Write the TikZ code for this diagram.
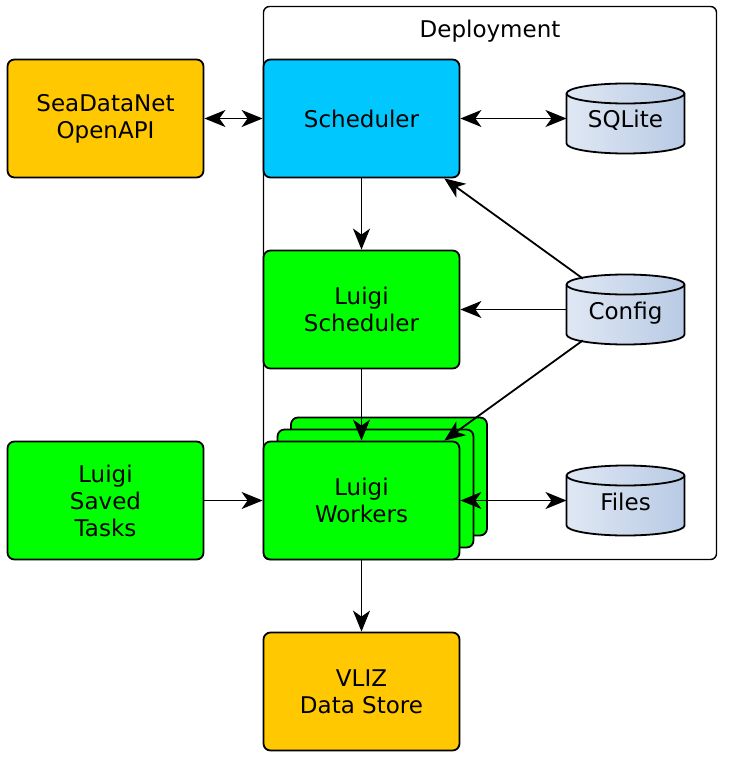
\documentclass[tikz,border=0pt]{standalone}
\usepackage{fontspec}
\setmainfont{DejaVu Sans}
\usetikzlibrary{arrows.meta}
\definecolor{skyblue}{HTML}{00C8FF}
\definecolor{golden}{HTML}{FFC800}
\definecolor{brightgreen}{HTML}{00FF00}
\definecolor{dblight}{HTML}{E0E8F4}
\definecolor{dbdark}{HTML}{B8CAE4}
\tikzset{
  box/.style = {draw, rounded corners=7pt, line width=1.8pt, minimum width=196pt, minimum height=118pt, align=center},
  db/.style = {minimum width=120pt, minimum height=72pt, inner sep=0pt, outer sep=-1pt, text height=20pt, text depth=1pt,
    path picture={
      \shadedraw[left color=dblight, right color=dbdark, line width=1.8pt, line join=round]
        ([shift={(-59,-25)}]path picture bounding box.center) -- ++(0,50)
        arc[start angle=180, end angle=360, x radius=59pt, y radius=10pt] -- ++(0,-50)
        arc[start angle=0, end angle=180, x radius=59pt, y radius=10pt] -- cycle;
      \draw[line width=1.8pt] ([shift={(-59,-25)}]path picture bounding box.center)
        arc[start angle=180, end angle=360, x radius=59pt, y radius=10pt];
    }},
  link/.style = {line width=1.8pt},
}
\begin{document}
\begin{tikzpicture}[x=1pt, y=-1pt, font=\fontsize{23}{27}\selectfont, >={Stealth[length=21pt,width=17pt,inset=6pt]}]
    \useasboundingbox (0,0) rectangle (729,759);
    % Draw the deployment frame
    \node (frame) [draw, rounded corners=6pt, line width=1.4pt, minimum width=453pt, minimum height=553pt] at (490,283) {};
    \node (deploy) at (490,31) {Deployment};
    % Draw the boxes
    \node (sdn) [box, fill=golden] at (105.5,118.5) {SeaDataNet\\OpenAPI};
    \node (sched) [box, fill=skyblue] at (361.5,118.5) {Scheduler};
    \node (lsched) [box, fill=brightgreen] at (361.5,309.5) {Luigi\\Scheduler};
    \node (saved) [box, fill=brightgreen] at (105.5,500.5) {Luigi\\Saved\\Tasks};
    \node (wrk3) [box, fill=brightgreen] at (389,476.5) {};
    \node (wrk2) [box, fill=brightgreen] at (375.5,488.5) {};
    \node (wrk) [box, fill=brightgreen] at (361.5,500.5) {Luigi\\Workers};
    \node (vliz) [box, fill=golden] at (361.5,691.5) {VLIZ\\Data Store};
    % Draw the databases
    \node (sqlite) [db] at (625.5,118.5) {SQLite};
    \node (config) [db] at (625.5,309.5) {Config};
    \node (files) [db] at (625.5,500.5) {Files};
    % Draw the arrows
    \draw[link, <->] (sdn) -- (sched);
    \draw[link, <->] (sched) -- (sqlite);
    \draw[link, ->] (sched) -- (lsched);
    \draw[link, ->, shorten <=-7pt] (config) -- (sched);
    \draw[link, ->] (config) -- (lsched);
    \draw[link, ->, shorten <=-7pt] (config) -- (wrk);
    \draw[link, ->] (lsched) -- (wrk);
    \draw[link, ->] (saved) -- (wrk);
    \draw[link, <->] (wrk) -- (files);
    \draw[link, ->] (wrk) -- (vliz);
\end{tikzpicture}
\end{document}
